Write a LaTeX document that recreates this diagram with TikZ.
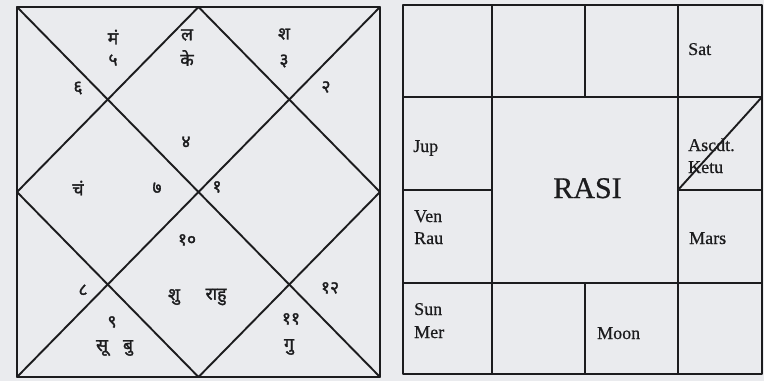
\documentclass[tikz,border=0pt]{standalone}
\usepackage{fontspec}
\setmainfont{Liberation Serif}[FakeBold=0.6]
\newfontfamily\deva{Noto Sans}[Script=Devanagari,FakeBold=1.6]
\definecolor{paper}{RGB}{234,235,238}
\definecolor{ink}{RGB}{28,28,30}
\begin{document}
\begin{tikzpicture}[x=1pt,y=-1pt,
  ln/.style={line width=1.9pt, draw=ink, line cap=round, line join=round},
  dv/.style={font=\deva\fontsize{17.5}{17.5}\selectfont, inner sep=0pt, text=ink},
  en/.style={font=\fontsize{18}{18}\selectfont, anchor=base west, inner sep=0pt, text=ink},
  big/.style={font=\fontsize{30}{30}\selectfont, anchor=base, inner sep=0pt, text=ink}]
\fill[paper] (0,0) rectangle (764,381);
\useasboundingbox (0,0) rectangle (764,381);
% ---------- North Indian chart ----------
\coordinate (A) at (17,7);
\coordinate (B) at (380,7);
\coordinate (C) at (380,377);
\coordinate (D) at (17,377);
\coordinate (T) at (198.5,7);
\coordinate (R) at (380,192);
\coordinate (Bm) at (198.5,377);
\coordinate (L) at (17,192);
\draw[ln] (A) -- (B) -- (C) -- (D) -- cycle;
\draw[ln] (A) -- (C);
\draw[ln] (B) -- (D);
\draw[ln] (T) -- (R) -- (Bm) -- (L) -- cycle;
% texts
\node[dv] (h5p) at (113,37) {मं};
\node[dv] (h5) at (113,60) {५};
\node[dv] (h4p1) at (187,35) {ल};
\node[dv] (h4p2) at (187,58) {के};
\node[dv] (h3p) at (284,34) {श};
\node[dv] (h3) at (284,61) {३};
\node[dv] (h6) at (78,88) {६};
\node[dv] (h2) at (326,87) {२};
\node[dv] (h4) at (186,142) {४};
\node[dv] (h7p) at (78,188) {चं};
\node[dv] (h7) at (157,188) {७};
\node[dv] (h1) at (217,187) {१};
\node[dv] (h10) at (187,240) {१०};
\node[dv] (h8) at (83,290) {८};
\node[dv] (h10p1) at (174,297) {शु};
\node[dv] (h10p2) at (216,297) {राहु};
\node[dv] (h12) at (330,288) {१२};
\node[dv] (h9) at (112,322) {९};
\node[dv] (h11) at (291,319) {११};
\node[dv] (h9p1) at (102,348) {सू};
\node[dv] (h9p2) at (128,348) {बु};
\node[dv] (h11p) at (289,347) {गु};
% ---------- South Indian chart ----------
\coordinate (g00) at (403,5);
\coordinate (g40) at (762,5);
\coordinate (g44) at (762,374);
\coordinate (g04) at (403,374);
\coordinate (g01) at (403,97);
\coordinate (g41) at (762,97);
\coordinate (g03) at (403,283);
\coordinate (g43) at (762,283);
\coordinate (g02) at (403,190);
\coordinate (g12) at (492,190);
\coordinate (g32) at (678,190);
\coordinate (g42) at (762,190);
\coordinate (g10) at (492,5);
\coordinate (g14) at (492,374);
\coordinate (g30) at (678,5);
\coordinate (g34) at (678,374);
\coordinate (g20) at (585,5);
\coordinate (g21) at (585,97);
\coordinate (g23) at (585,283);
\coordinate (g24) at (585,374);
\draw[ln] (g00) -- (g40) -- (g44) -- (g04) -- cycle;
\draw[ln] (g01) -- (g41);
\draw[ln] (g03) -- (g43);
\draw[ln] (g02) -- (g12);
\draw[ln] (g32) -- (g42);
\draw[ln] (g10) -- (g14);
\draw[ln] (g30) -- (g34);
\draw[ln] (g20) -- (g21);
\draw[ln] (g23) -- (g24);
\draw[ln] (g32) -- (g41);
% labels
\node[en] (sat) at (688,55) {Sat};
\node[en] (jup) at (413,152) {Jup};
\node[en] (asc) at (688,151) {Ascdt.};
\node[en] (ketu) at (688,173) {Ketu};
\node[big] (rasi) at (587.5,198) {RASI};
\node[en] (ven) at (414,222) {Ven};
\node[en] (rau) at (414,244) {Rau};
\node[en] (mars) at (689,244) {Mars};
\node[en] (sun) at (414,315) {Sun};
\node[en] (mer) at (414,338) {Mer};
\node[en] (moon) at (597,339) {Moon};
\end{tikzpicture}
\end{document}
